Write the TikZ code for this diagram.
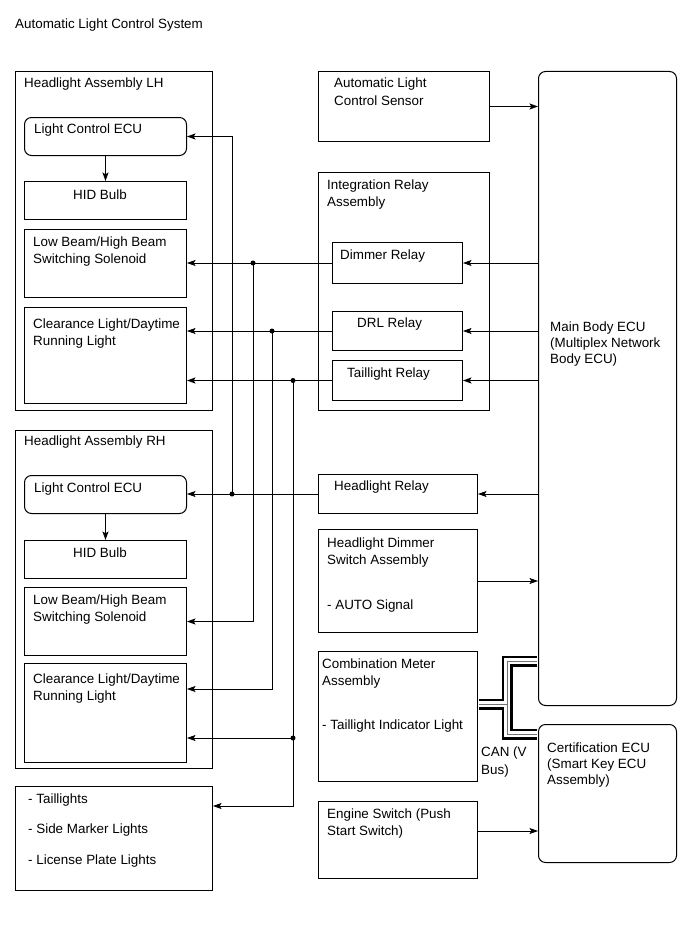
\documentclass[tikz,border=0pt]{standalone}
\usepackage{fontspec}
\setmainfont{Liberation Sans}
\usetikzlibrary{arrows.meta,calc}
\begin{document}
\begin{tikzpicture}[x=1pt,y=-1pt,
  box/.style={draw, line width=1pt, inner sep=0, anchor=north west},
  rbox/.style={box, rounded corners=7pt},
  txt/.style={inner sep=0, anchor=base west, font=\fontsize{13.4}{17}\selectfont},
  arr/.style={-{Stealth[length=8.5pt,width=6pt,inset=1.8pt]}, line width=0.8pt},
  jdot/.style={circle, fill, inner sep=0, minimum size=5pt},
  canblack/.style={line width=11pt, black, line join=miter},
  canwhite/.style={line width=6pt, white, line join=miter},
  canmid/.style={line width=1pt, black!55, line join=miter}]
\useasboundingbox (0,0) rectangle (689,950);
\node[txt] (title) at (15,29) {Automatic Light Control System};

% Headlight Assembly LH
\node[box, minimum width=197, minimum height=339] (lh) at (15,71) {};
\node[txt] (lht) at (24,87) {Headlight Assembly LH};
\node[rbox, minimum width=162, minimum height=38] (lhecu) at (24,117) {};
\node[txt] (lhecut) at (34,133) {Light Control ECU};
\node[box, minimum width=162, minimum height=38] (lhhid) at (24,181) {};
\node[txt] (lhhidt) at (73,199) {HID Bulb};
\node[box, minimum width=162, minimum height=68] (lhlb) at (24,229) {};
\node[txt] (lhlbt1) at (33,246) {Low Beam/High Beam};
\node[txt] (lhlbt2) at (33,263) {Switching Solenoid};
\node[box, minimum width=162, minimum height=96] (lhcl) at (24,307) {};
\node[txt] (lhclt1) at (33,328) {Clearance Light/Daytime};
\node[txt] (lhclt2) at (33,345) {Running Light};

% Headlight Assembly RH
\node[box, minimum width=197, minimum height=338] (rh) at (15,430) {};
\node[txt] (rht) at (24,445) {Headlight Assembly RH};
\node[rbox, minimum width=162, minimum height=38] (rhecu) at (24,475) {};
\node[txt] (rhecut) at (34,492) {Light Control ECU};
\node[box, minimum width=162, minimum height=38] (rhhid) at (24,540) {};
\node[txt] (rhhidt) at (73,557) {HID Bulb};
\node[box, minimum width=162, minimum height=68] (rhlb) at (24,587) {};
\node[txt] (rhlbt1) at (33,604) {Low Beam/High Beam};
\node[txt] (rhlbt2) at (33,621) {Switching Solenoid};
\node[box, minimum width=162, minimum height=99] (rhcl) at (24,663) {};
\node[txt] (rhclt1) at (33,683) {Clearance Light/Daytime};
\node[txt] (rhclt2) at (33,700) {Running Light};

% Taillights
\node[box, minimum width=197, minimum height=104] (tail) at (15,786) {};
\node[txt] (tailt1) at (28,803) {- Taillights};
\node[txt] (tailt2) at (28,833) {- Side Marker Lights};
\node[txt] (tailt3) at (28,864) {- License Plate Lights};

% Right column
\node[box, minimum width=171, minimum height=70] (sens) at (318,71) {};
\node[txt] (senst1) at (334,88) {Automatic Light};
\node[txt] (senst2) at (334,105) {Control Sensor};
\node[box, minimum width=171, minimum height=238] (irel) at (318,172) {};
\node[txt] (irelt1) at (327,189) {Integration Relay};
\node[txt] (irelt2) at (327,206) {Assembly};
\node[box, minimum width=130, minimum height=41] (dim) at (332,242) {};
\node[txt] (dimt) at (340,259) {Dimmer Relay};
\node[box, minimum width=130, minimum height=39] (drl) at (332,311) {};
\node[txt] (drlt) at (357,327) {DRL Relay};
\node[box, minimum width=130, minimum height=40] (trel) at (332,360) {};
\node[txt] (trelt) at (347,377) {Taillight Relay};
\node[box, minimum width=159, minimum height=39] (hrel) at (318,474) {};
\node[txt] (hrelt) at (334,490) {Headlight Relay};
\node[box, minimum width=159, minimum height=103] (hds) at (318,529) {};
\node[txt] (hdst1) at (327,547) {Headlight Dimmer};
\node[txt] (hdst2) at (327,564) {Switch Assembly};
\node[txt] (hdst3) at (327,609) {- AUTO Signal};
\node[box, minimum width=159, minimum height=130] (met) at (318,651) {};
\node[txt] (mett1) at (322,668) {Combination Meter};
\node[txt] (mett2) at (322,685) {Assembly};
\node[txt] (mett3) at (322,729) {- Taillight Indicator Light};
\node[box, minimum width=159, minimum height=77] (eng) at (318,801) {};
\node[txt] (engt1) at (327,818) {Engine Switch (Push};
\node[txt] (engt2) at (327,835) {Start Switch)};
\node[rbox, minimum width=138, minimum height=634] (mb) at (538,71) {};
\node[txt] (mbt1) at (550,331) {Main Body ECU};
\node[txt] (mbt2) at (550,347) {(Multiplex Network};
\node[txt] (mbt3) at (550,363) {Body ECU)};
\node[rbox, minimum width=138, minimum height=138] (cert) at (538,724) {};
\node[txt] (certt1) at (547,752) {Certification ECU};
\node[txt] (certt2) at (547,768) {(Smart Key ECU};
\node[txt] (certt3) at (547,784) {Assembly)};
\node[txt] (cant1) at (481,756) {CAN (V};
\node[txt] (cant2) at (481,774) {Bus)};

% bus columns
\coordinate (xa) at (232,0);
\coordinate (xb) at (253,0);
\coordinate (xc) at (272,0);
\coordinate (xd) at (293,0);
\coordinate (ja) at (xa |- hrel.west);
\coordinate (jb) at (xb |- dim.west);
\coordinate (jc) at (xc |- drl.west);
\coordinate (jd) at (xd |- trel.west);
\coordinate (rhclA) at ($(rhcl.north east)+(0,26)$);
\coordinate (rhclB) at ($(rhcl.north east)+(0,75)$);
\coordinate (jd2) at (xd |- rhclB);
\coordinate (tailA) at ($(tail.north east)+(0,20)$);
\coordinate (engA) at ($(eng.north east)+(0,30)$);

% internal arrows
\draw[arr] (lhecu.south) -- (lhhid.north);
\draw[arr] (rhecu.south) -- (rhhid.north);

% relay outputs
\draw[arr] (hrel.west) -- (rhecu.east |- hrel.west);
\draw[arr] (ja) |- (lhecu.east);
\draw[arr] (dim.west) -- (lhlb.east |- dim.west);
\draw[arr] (jb) |- (rhlb.east);
\draw[arr] (drl.west) -- (lhcl.east |- drl.west);
\draw[arr] (jc) |- (rhclA);
\draw[arr] (trel.west) -- (lhcl.east |- trel.west);
\draw[arr] (jd) |- (tailA);
\draw[arr] (jd2) -- (rhclB);
\node[jdot] (da) at (ja) {};
\node[jdot] (db) at (jb) {};
\node[jdot] (dc) at (jc) {};
\node[jdot] (dd) at (jd) {};
\node[jdot] (dd2) at (jd2) {};

% main body links
\draw[arr] (sens.east) -- (mb.west |- sens.east);
\draw[arr] (mb.west |- dim.east) -- (dim.east);
\draw[arr] (mb.west |- drl.east) -- (drl.east);
\draw[arr] (mb.west |- trel.east) -- (trel.east);
\draw[arr] (mb.west |- hrel.east) -- (hrel.east);
\draw[arr] (hds.east) -- (mb.west |- hds.east);
\draw[arr] (engA) -- (cert.west |- engA);

% CAN bus
\coordinate (cm) at ($(met.east |- 0,704)+(0.6,0)$);
\coordinate (cv) at (507,704);
\coordinate (cmb) at ($(mb.west |- 0,661)+(-0.6,0)$);
\coordinate (cce) at ($(cert.west |- 0,734)+(-0.6,0)$);
\foreach \s in {canblack,canwhite,canmid}{
  \draw[\s] (cm) -- (cv);
  \draw[\s] (cmb) -| (507,734) -- (cce);
}
\end{tikzpicture}
\end{document}
